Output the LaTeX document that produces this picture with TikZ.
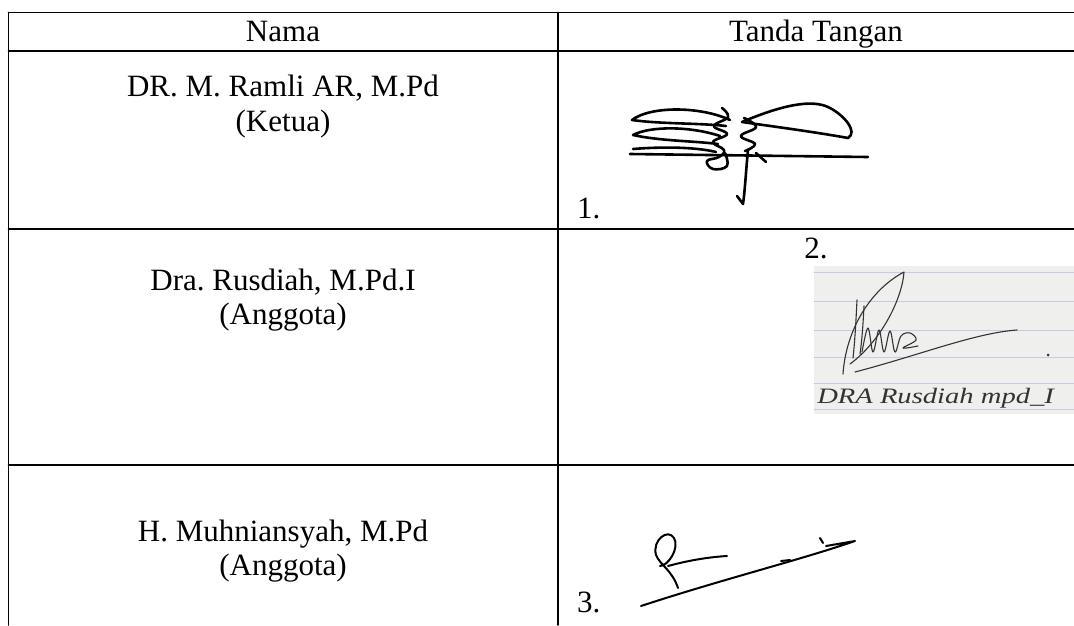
\documentclass[tikz,border=0pt]{standalone}
\usepackage{fontspec}
\setmainfont{Liberation Serif}
\frenchspacing
\definecolor{kertas}{HTML}{EFEFED}
\definecolor{garisbuku}{HTML}{CBC8E6}
\definecolor{tinta}{HTML}{333333}
\begin{document}
\begin{tikzpicture}[x=1pt,y=-1pt,line cap=round,line join=round,
    teks/.style={font=\fontsize{31}{35}\selectfont,anchor=base,inner sep=0pt},
    garis/.style={line width=1.8pt},
    ttd/.style={line width=2.6pt},
    ttdtipis/.style={line width=1.1pt,tinta}]
            \useasboundingbox (0,0) rectangle (1074,625);

            % Tabel
            \draw[garis] (8.5,12.5) -- (1074,12.5);
            \draw[garis] (8.5,51) -- (1074,51);
            \draw[garis] (8.5,229) -- (1074,229);
            \draw[garis] (8.5,465) -- (1074,465);
            \draw[garis] (8.5,12.5) -- (8.5,625);
            \draw[garis] (558,12.5) -- (558,625);

            % Judul
            \node[teks] (nama) at (283,41) {Nama};
            \node[teks] (tanda) at (816,41) {Tanda Tangan};

            % Nama
            \node[teks] (nama1) at (283,96) {DR. M. Ramli AR, M.Pd};
            \node[teks] (jab1) at (283,131) {(Ketua)};
            \node[teks] (nama2) at (283,290) {Dra. Rusdiah, M.Pd.I};
            \node[teks] (jab2) at (283,324) {(Anggota)};
            \node[teks] (nama3) at (283,541) {H. Muhniansyah, M.Pd};
            \node[teks] (jab3) at (283,575) {(Anggota)};

            % Nomor
            \node[teks,anchor=base west] (no1) at (577,218) {1.};
            \node[teks] (no2) at (816,258) {2.};
            \node[teks,anchor=base west] (no3) at (577,612) {3.};

            % Tanda tangan 1
            \draw[ttd] (630,154) -- (868,157);
            \draw[ttd] (730,120) .. controls (700,106) and (650,106) .. (632,120)
                .. controls (660,124) and (700,123) .. (726,126);
            \draw[ttd] (720,136) .. controls (690,126) and (650,126) .. (633,135)
                .. controls (660,141) and (695,141) .. (718,144);
            \draw[ttd] (633,149) .. controls (670,146) and (700,148) .. (716,152);
            \draw[ttd] plot[smooth,tension=0.7] coordinates {(722,108) (728,117) (714,126)
                (727,134) (713,142) (724,150) (719,157) (707,161) (713,169) (727,166) (725,153)};
            \draw[ttd] plot[smooth,tension=0.7] coordinates {(744,118) (756,127) (741,136)
                (755,144) (745,151)};
            \draw[ttd] (756,153) -- (766,162);
            \draw[ttd] (742,122) .. controls (780,106) and (812,98) .. (830,108)
                .. controls (845,116) and (858,132) .. (848,138)
                .. controls (815,132) and (770,126) .. (742,122);
            \draw[ttd] (748,150) .. controls (746,170) and (745,190) .. (743,204) -- (737,196);

            % Tanda tangan 2
            \fill[kertas] (814,266) rectangle (1074,414);
            \foreach \y in {272,301,330,357,383,409}
                \draw[garisbuku,line width=1pt] (814,\y) -- (1074,\y);
            \draw[ttdtipis] (843,374) .. controls (846,330) and (870,290) .. (904,272)
                .. controls (902,300) and (880,342) .. (850,364);
            \draw[ttdtipis] (857,300) .. controls (856,320) and (855,340) .. (853,358);
            \draw[ttdtipis] (864,306) .. controls (863,325) and (862,340) .. (860,354);
            \draw[ttdtipis] plot[smooth,tension=0.6] coordinates {(862,352) (868,328) (873,352)
                (879,330) (884,352) (890,331) (895,352) (901,336) (910,333) (916,340) (903,348) (918,346)};
            \draw[ttdtipis] (855,372) .. controls (920,355) and (975,333) .. (1017,330);
            \fill[tinta] (1048,355) circle (1.5);
            \node[font=\fontsize{22}{24}\selectfont\itshape,text=tinta,anchor=base west,inner sep=0pt,
                transform shape,xscale=1.3] (tulis) at (817,403) {DRA Rusdiah mpd\_I};

            % Tanda tangan 3
            \draw[ttd,line width=2pt] (641,606) .. controls (720,580) and (800,560) .. (855,541)
                -- (826,546);
            \draw[ttd,line width=2pt] (678,588) .. controls (672,570) and (660,565) .. (656,555)
                .. controls (652,540) and (668,528) .. (674,538)
                .. controls (680,548) and (668,566) .. (660,566);
            \draw[ttd,line width=2pt] (668,566) .. controls (690,560) and (710,557) .. (727,556);
            \draw[ttd,line width=2pt] (781,561) -- (790,560);
            \draw[ttd,line width=2pt] (820,538) -- (823,543);
        \end{tikzpicture}
\end{document}
